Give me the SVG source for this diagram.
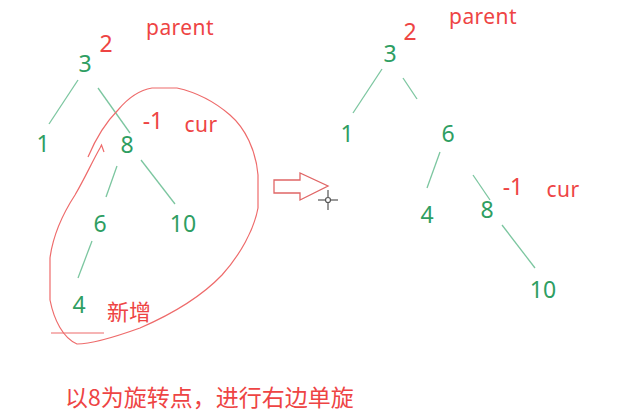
<svg xmlns="http://www.w3.org/2000/svg" width="631" height="418" viewBox="0 0 631 418">
<style>
.n{font-family:"Noto Sans","Liberation Sans",sans-serif;font-size:23px;fill:#2e9e62;text-anchor:middle}
.r{font-family:"Noto Sans","Liberation Sans",sans-serif;font-size:23px;fill:#ee4444;text-anchor:middle}
.t{font-family:"Noto Sans","Liberation Sans",sans-serif;font-size:21px;fill:#ee4444;text-anchor:middle;letter-spacing:0.4px}
.cjk{font-family:"Noto Sans CJK SC","Noto Sans",sans-serif;fill:#ee4444}
.e{stroke:#7cc6a0;stroke-width:1.3;fill:none}
.h{stroke:#ee6b6b;stroke-width:1.2;fill:none}
</style>
<rect width="631" height="418" fill="#ffffff"/>
<g id="connectors">
<line class="e" x1="78" y1="80" x2="49" y2="124"/>
<line class="e" x1="98" y1="88" x2="130" y2="133"/>
<line class="e" x1="117" y1="166" x2="106" y2="197"/>
<line class="e" x1="141" y1="160" x2="175" y2="204"/>
<line class="e" x1="92" y1="241" x2="78" y2="278"/>
<line class="e" x1="382" y1="69" x2="353" y2="113"/>
<line class="e" x1="403" y1="78" x2="417" y2="99"/>
<line class="e" x1="440" y1="152" x2="427" y2="188"/>
<line class="e" x1="473" y1="175" x2="490" y2="200"/>
<line class="e" x1="502" y1="225" x2="535" y2="268"/>
</g>
<g id="left-tree">
<g id="l-parent"><text class="t" x="180" y="35">parent</text></g>
<g id="l-bf3"><text class="r" x="106" y="52">2</text></g>
<g id="l-n3"><text class="n" x="85" y="72">3</text></g>
<g id="l-n1"><text class="n" x="43" y="152">1</text></g>
<g id="l-n8"><text class="n" x="127" y="153">8</text></g>
<g id="l-bf8"><text class="r" x="153" y="129">-1</text></g>
<g id="l-cur"><text class="t" x="201" y="132">cur</text></g>
<g id="l-n6"><text class="n" x="100" y="232">6</text></g>
<g id="l-n10"><text class="n" x="183" y="232">10</text></g>
<g id="l-n4"><text class="n" x="79" y="313">4</text></g>
<g id="l-new"><text class="cjk" x="107" y="320" font-size="22">新增</text></g>
<g id="l-loop">
<path class="h" d="M88,157 C96,138 106,122 118,110 C128,98 140,90 152,88 L177,88 C195,92 215,102 230,115 C245,128 256,150 258,175 L258,208 C254,230 240,255 222,275 C200,298 170,315 140,328 C115,337 92,344 77,344 C63,338 54,320 50,300 L50,258 C53,235 62,215 75,195 C85,178 92,162 100,148 L101.5,145 L104,152"/>
<line class="h" x1="51" y1="333" x2="104" y2="333"/>
</g>
</g>
<g id="arrow">
<path d="M274,180 L300,180 L300,173 L328,186 L300,200 L300,193 L274,193 Z" fill="#ffffff" stroke="#e06666" stroke-width="1.3"/>
</g>
<g id="cursor" stroke="#555555" stroke-width="1.2" fill="none">
<line x1="318" y1="200" x2="325" y2="200"/>
<line x1="331" y1="200" x2="338" y2="200"/>
<line x1="328" y1="190" x2="328" y2="197"/>
<line x1="328" y1="203" x2="328" y2="210"/>
<circle cx="328" cy="200" r="2.5"/>
</g>
<g id="right-tree">
<g id="r-parent"><text class="t" x="483" y="24">parent</text></g>
<g id="r-bf3"><text class="r" x="410" y="40">2</text></g>
<g id="r-n3"><text class="n" x="390" y="62">3</text></g>
<g id="r-n1"><text class="n" x="347" y="142">1</text></g>
<g id="r-n6"><text class="n" x="448" y="142">6</text></g>
<g id="r-n4"><text class="n" x="427" y="223">4</text></g>
<g id="r-n8"><text class="n" x="487" y="218">8</text></g>
<g id="r-bf8"><text class="r" x="513" y="195">-1</text></g>
<g id="r-cur"><text class="t" x="563" y="197">cur</text></g>
<g id="r-n10"><text class="n" x="543" y="298">10</text></g>
</g>
<g id="caption"><text class="cjk" x="65" y="406" font-size="23">以8为旋转点，进行右边单旋</text></g>
</svg>
